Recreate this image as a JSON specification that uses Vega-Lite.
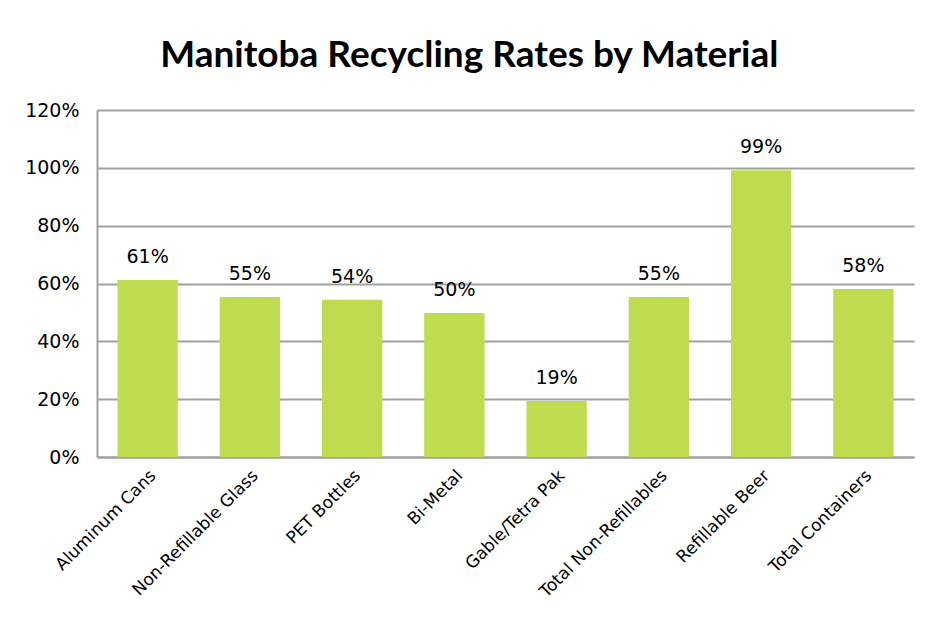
{
  "$schema": "https://vega.github.io/schema/vega-lite/v6.json",
  "width": 817,
  "height": 347,
  "autosize": {"type": "none"},
  "padding": {"left": 97, "top": 110, "right": 16, "bottom": 169},
  "background": "white",
  "title": {
    "text": "Manitoba Recycling Rates by Material",
    "font": "Lato",
    "fontSize": 37,
    "fontWeight": "bold",
    "color": "#000000",
    "anchor": "middle",
    "frame": "bounds",
    "offset": 26
  },
  "config": {
    "view": {"stroke": null},
    "font": "DejaVu Sans"
  },
  "data": {
    "values": [
      {"material": "Aluminum Cans", "rate": 0.612},
      {"material": "Non-Refillable Glass", "rate": 0.553},
      {"material": "PET Bottles", "rate": 0.544},
      {"material": "Bi-Metal", "rate": 0.498},
      {"material": "Gable/Tetra Pak", "rate": 0.194},
      {"material": "Total Non-Refillables", "rate": 0.553},
      {"material": "Refillable Beer", "rate": 0.992},
      {"material": "Total Containers", "rate": 0.581}
    ]
  },
  "encoding": {
    "x": {
      "field": "material",
      "type": "nominal",
      "sort": null,
      "scale": {"paddingInner": 0.41, "paddingOuter": 0.2},
      "axis": {
        "title": null,
        "labelAngle": -45,
        "labelFontSize": 17,
        "labelLimit": 400,
        "labelColor": "#000000",
        "labelFont": "DejaVu Sans",
        "ticks": false,
        "domainColor": "#a0a0a0",
        "domainWidth": 2,
        "labelPadding": 10
      }
    },
    "y": {
      "field": "rate",
      "type": "quantitative",
      "scale": {"domain": [0, 1.2]},
      "axis": {
        "title": null,
        "format": ".0%",
        "values": [0, 0.2, 0.4, 0.6, 0.8, 1.0, 1.2],
        "labelFontSize": 19,
        "labelColor": "#000000",
        "labelFont": "DejaVu Sans",
        "ticks": false,
        "labelPadding": 18,
        "domainColor": "#a0a0a0",
        "domainWidth": 2,
        "gridColor": "#a0a0a0",
        "gridWidth": 2
      }
    }
  },
  "layer": [
    {"mark": {"type": "bar", "color": "#bfdb4f"}},
    {
      "mark": {"type": "text", "dy": -23, "fontSize": 19, "color": "#000000", "font": "DejaVu Sans"},
      "encoding": {
        "text": {"field": "rate", "type": "quantitative", "format": ".0%"}
      }
    }
  ]
}
